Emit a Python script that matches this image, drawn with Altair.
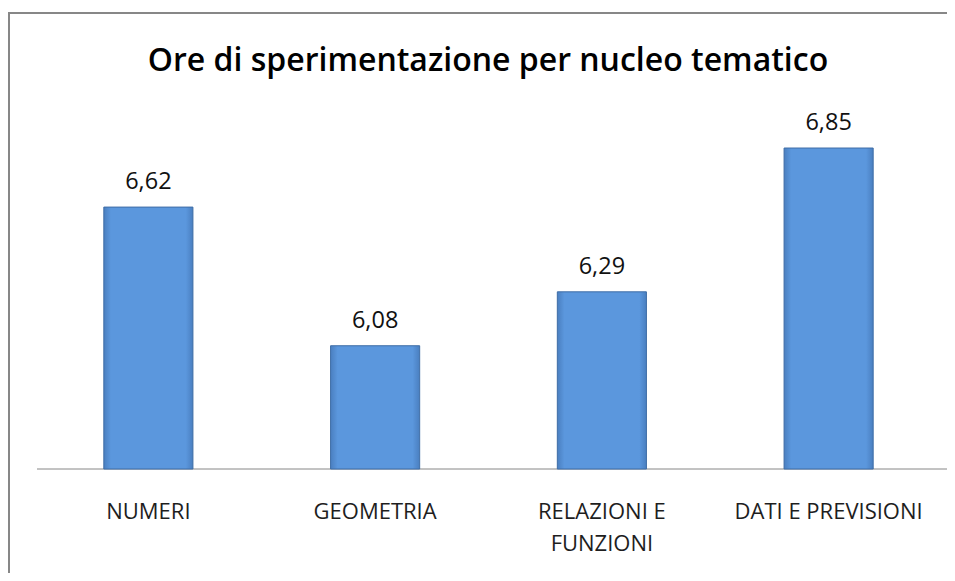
import altair as alt
import pandas as pd

categories = ["NUMERI", "GEOMETRIA", "RELAZIONI E FUNZIONI", "DATI E PREVISIONI"]
values = [6.62, 6.08, 6.29, 6.85]
value_labels = ["6,62", "6,08", "6,29", "6,85"]
axis_min = 5.6
axis_max = 7.0
title_text = "Ore di sperimentazione per nucleo tematico"

df = pd.DataFrame({"cat": categories, "val": values, "lab": value_labels, "base": [axis_min] * len(values)})
one = pd.DataFrame({"a": [0]})

W, H = 907, 359.5
FONT = "Open Sans"

x = alt.X(
    "cat:N",
    sort=categories,
    scale=alt.Scale(paddingInner=0.607, paddingOuter=0.3035),
    axis=alt.Axis(
        title=None, labelAngle=0, domain=False, ticks=False, labelPadding=32,
        labelFontSize=22, labelFont=FONT, labelColor="#1e1e1e", labelLineHeight=32,
        labelBaseline="top", labelLimit=0,
        labelExpr="datum.label == 'RELAZIONI E FUNZIONI' ? ['RELAZIONI E', 'FUNZIONI'] : datum.label",
    ),
)
y = alt.Y("val:Q", scale=alt.Scale(domain=[axis_min, axis_max], zero=False, nice=False), axis=None)

grad = alt.Gradient(
    gradient="linear", x1=0, x2=1, y1=0, y2=0,
    stops=[
        alt.GradientStop(color="#4a7fc0", offset=0),
        alt.GradientStop(color="#5b97dd", offset=0.08),
        alt.GradientStop(color="#5b97dd", offset=0.92),
        alt.GradientStop(color="#4a7fc0", offset=1),
    ],
)

base = alt.Chart(df)
bars = base.mark_bar(color=grad, stroke="#3e6da6", strokeWidth=1).encode(x=x, y=y, y2="base:Q")
texts = base.mark_text(font=FONT, fontSize=23.5, color="#111111", baseline="middle", dy=-25).encode(
    x=alt.X("cat:N", sort=categories), y="val:Q", text="lab:N"
)

title = alt.Chart(one).mark_text(
    text=title_text, font=FONT, fontSize=32, fontWeight=600, color="#000000",
    align="center", baseline="alphabetic",
).encode(x=alt.value(453), y=alt.value(-38.5))

baseline = alt.Chart(one).mark_rule(color="#868686", strokeWidth=1).encode(
    x=alt.value(2), x2=alt.value(920), y=alt.value(H)
)
frame_left = alt.Chart(one).mark_rule(color="#878787", strokeWidth=2).encode(
    x=alt.value(-26), y=alt.value(-96.5), y2=alt.value(480)
)
frame_top = alt.Chart(one).mark_rule(color="#878787", strokeWidth=2).encode(
    x=alt.value(-27), x2=alt.value(920), y=alt.value(-96.5)
)

chart = alt.layer(frame_left, frame_top, baseline, bars, texts, title).properties(
    width=W,
    height=H,
    autosize=alt.AutoSizeParams(type="none"),
    padding={"left": 27, "top": 101.5, "right": 5, "bottom": 104},
).configure_view(stroke=None)

chart.save("out.html", embed_options={"renderer": "svg", "actions": False})
